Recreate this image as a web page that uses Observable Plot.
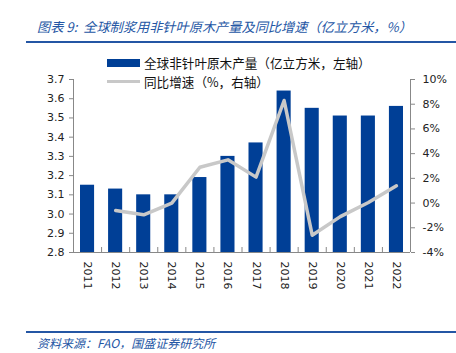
<!DOCTYPE html>
<html><head><meta charset="utf-8">
<script src="https://cdn.jsdelivr.net/npm/d3@7"></script>
<script src="https://cdn.jsdelivr.net/npm/@observablehq/plot@0.6"></script>
<style>
body{margin:0;background:#fff;}
#wrap{position:relative;width:456px;height:353px;overflow:hidden;font-family:"Noto Sans CJK SC",sans-serif;}
.title{position:absolute;left:37px;top:17px;font-size:13.2px;font-style:italic;color:#2456a4;white-space:nowrap;}
.rule{position:absolute;left:26px;width:430px;height:2px;background:#2456a4;}
.src{position:absolute;left:37px;top:334px;font-size:12px;font-style:italic;color:#2456a4;white-space:nowrap;}
.leg{position:absolute;left:107px;font-size:12.6px;color:#111;white-space:nowrap;display:flex;align-items:center;}
.sw{display:inline-block;width:33px;margin-right:4px;}
#chart{position:absolute;left:0;top:45px;}
</style></head>
<body><div id="wrap">
<div class="title">图表 9:&nbsp; 全球制浆用非针叶原木产量及同比增速（亿立方米，%）</div>
<div class="rule" style="top:41px"></div>
<div id="chart"></div>
<div class="leg" style="top:53px"><span class="sw" style="height:8px;background:#003f96"></span>全球非针叶原木产量（亿立方米，左轴）</div>
<div class="leg" style="top:72px"><span class="sw" style="height:3.5px;background:#c8c8c8"></span>同比增速（%，右轴）</div>
<div class="rule" style="top:331px"></div>
<div class="src">资料来源：FAO，国盛证券研究所</div>
</div>
<script>
const years = [2011,2012,2013,2014,2015,2016,2017,2018,2019,2020,2021,2022];
const output = [3.15,3.13,3.10,3.10,3.19,3.30,3.37,3.64,3.55,3.51,3.51,3.56];
const growth = [null,-0.6,-0.95,0.0,2.9,3.5,2.1,8.3,-2.6,-1.1,0.05,1.4];
const leftTicks = [2.8,2.9,3.0,3.1,3.2,3.3,3.4,3.5,3.6,3.7];
const rightTicks = [-4,-2,0,2,4,6,8,10];

const toLeft = d3.scaleLinear([-4,10],[2.8,3.7]);
const barData = years.map((y,i)=>({year:y, value:output[i]}));
const lineData = years.map((y,i)=>({year:y, g:growth[i]})).filter(d=>d.g!==null);
const bounds = d3.range(years[0]-0.5, years[years.length-1]+1, 1);

const axisColor = "#888";
const plot = Plot.plot({
  width:456, height:285,
  marginTop:34, marginBottom:78, marginLeft:73, marginRight:46,
  style:{fontFamily:"DejaVu Sans, sans-serif", fontSize:"11px", color:"#222", background:"transparent"},
  x:{type:"linear", domain:[years[0]-0.5, years[years.length-1]+0.5]},
  y:{domain:[2.8,3.7]},
  marks:[
    Plot.rectY(barData,{x1:d=>d.year-0.5, x2:d=>d.year+0.5, y1:2.8, y2:"value", fill:"#003f96", insetLeft:7, insetRight:7}),
    Plot.line(lineData,{x:"year", y:d=>toLeft(d.g), stroke:"#c8c8c8", strokeWidth:3.5}),
    Plot.ruleY([2.8],{stroke:axisColor}),
    Plot.ruleX([bounds[0]],{stroke:axisColor}),
    Plot.ruleX([bounds[bounds.length-1]],{stroke:axisColor}),
    Plot.axisY(leftTicks,{anchor:"left", tickSize:4, tickPadding:5, tickFormat:d3.format(".1f"), stroke:axisColor, label:null}),
    Plot.axisY(rightTicks.map(toLeft),{anchor:"right", tickSize:4, tickPadding:8, tickFormat:d=>Math.round(toLeft.invert(d))+"%", stroke:axisColor, label:null}),
    Plot.axisX(bounds,{anchor:"bottom", tickSize:-5, tickFormat:()=>"", stroke:axisColor, label:null}),
    Plot.axisX(years,{anchor:"bottom", tickSize:0, tickPadding:9, tickRotate:90, tickFormat:d=>String(d), label:null})
  ]
});
document.getElementById("chart").appendChild(plot);
</script>
</body></html>
